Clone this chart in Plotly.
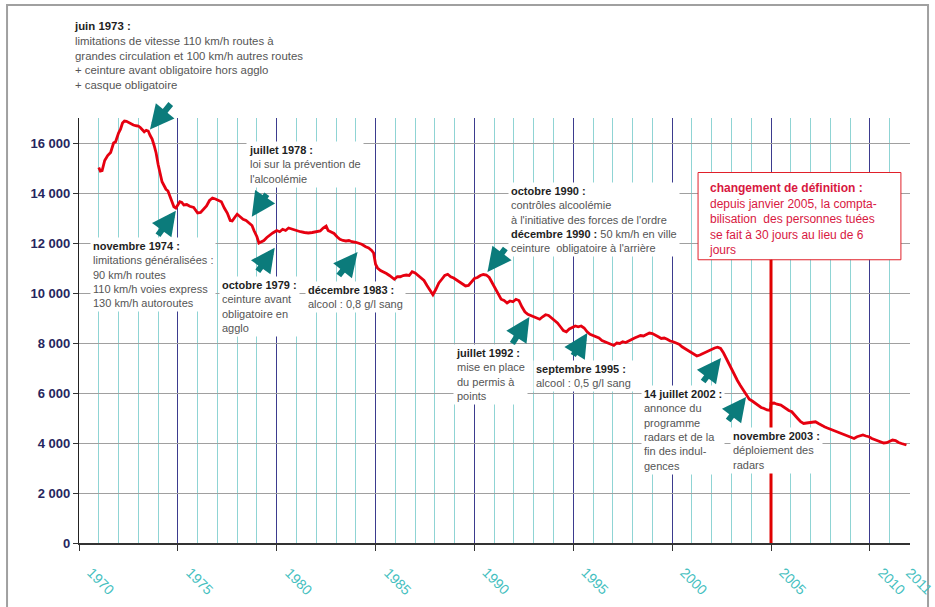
import plotly.graph_objects as go

# ---- data: 12-month rolling number of road deaths (France) ----
years = [1971.00,1971.08,1971.17,1971.3,1971.45,1971.6,1971.75,1971.85,1972.0,1972.1,1972.2,1972.3,1972.4,1972.5,1972.6,1972.75,1972.9,
         1973.0,1973.1,1973.2,1973.3,1973.4,1973.5,1973.6,1973.7,1973.8,1973.9,1974.0,1974.1,1974.2,1974.3,1974.4,1974.5,1974.6,1974.7,1974.8,1974.9,
         1975.0,1975.1,1975.2,1975.3,1975.45,1975.6,1975.8,1975.9,1976.0,1976.15,1976.3,1976.45,1976.6,1976.75,1976.9,
         1977.05,1977.2,1977.35,1977.5,1977.65,1977.75,1977.9,1978.0,1978.15,1978.3,1978.45,1978.6,1978.75,1978.85,
         1979.0,1979.1,1979.2,1979.35,1979.5,1979.65,1979.8,1980.0,1980.15,1980.3,1980.45,1980.6,1980.75,1980.9,
         1981.05,1981.2,1981.4,1981.6,1981.8,1982.0,1982.2,1982.35,1982.5,1982.6,1982.75,1982.9,
         1983.05,1983.2,1983.35,1983.5,1983.65,1983.8,1984.0,1984.15,1984.3,1984.5,1984.65,1984.8,1984.9,
         1985.0,1985.1,1985.25,1985.4,1985.55,1985.7,1985.85,1985.95,1986.1,1986.25,1986.4,1986.55,1986.7,1986.85,
         1987.0,1987.15,1987.3,1987.45,1987.6,1987.75,1987.9,1988.05,1988.2,1988.35,1988.5,1988.65,1988.8,1988.95,
         1989.1,1989.25,1989.4,1989.55,1989.7,1989.85,1990.0,1990.15,1990.3,1990.45,1990.6,1990.75,1990.9,
         1991.05,1991.2,1991.35,1991.5,1991.65,1991.8,1991.95,1992.1,1992.25,1992.4,1992.55,1992.7,1992.85,
         1993.0,1993.15,1993.3,1993.45,1993.6,1993.75,1993.9,1994.05,1994.2,1994.35,1994.5,1994.65,1994.8,1994.95,
         1995.1,1995.25,1995.4,1995.55,1995.7,1995.85,1996.0,1996.15,1996.3,1996.45,1996.6,1996.75,1996.9,
         1997.05,1997.2,1997.35,1997.5,1997.65,1997.8,1997.95,1998.1,1998.25,1998.4,1998.55,1998.7,1998.85,
         1999.0,1999.15,1999.3,1999.45,1999.6,1999.75,1999.9,2000.05,2000.2,2000.35,2000.5,2000.65,2000.8,2000.95,
         2001.1,2001.25,2001.4,2001.55,2001.7,2001.85,2002.0,2002.15,2002.3,2002.45,2002.6,2002.75,2002.9,
         2003.0,2003.15,2003.3,2003.45,2003.6,2003.75,2003.9,2004.05,2004.2,2004.35,2004.5,2004.65,2004.8,2004.97,
         2005.0,2005.15,2005.3,2005.5,2005.7,2005.9,2006.05,2006.2,2006.35,2006.5,2006.65,2006.8,2006.95,
         2007.1,2007.25,2007.4,2007.55,2007.7,2007.85,2008.0,2008.15,2008.3,2008.45,2008.6,2008.75,2008.9,
         2009.05,2009.2,2009.35,2009.5,2009.65,2009.8,2009.95,2010.1,2010.25,2010.4,2010.55,2010.7,2010.85,
         2011.0,2011.15,2011.3,2011.45,2011.6,2011.75,2011.85]
deaths = [15020,14880,14900,15300,15500,15620,16000,16050,16400,16550,16800,16880,16870,16820,16760,16720,16690,
          16680,16620,16540,16450,16510,16480,16300,16160,15900,15600,15150,14800,14450,14300,14150,14080,13850,13700,13450,13400,
          13550,13650,13620,13520,13540,13470,13420,13300,13200,13220,13350,13480,13700,13800,13760,
          13720,13650,13400,13200,12900,12880,13050,13150,13050,12950,12900,12780,12700,12500,
          12250,12000,12050,12100,12220,12330,12400,12500,12450,12550,12500,12600,12560,12520,
          12480,12450,12420,12400,12420,12450,12480,12600,12680,12500,12450,12380,
          12250,12150,12100,12080,12100,12050,12030,11980,11950,11850,11800,11700,11600,
          11150,11000,10900,10850,10780,10700,10600,10550,10650,10650,10700,10720,10700,10850,
          10800,10700,10600,10500,10300,10100,9930,10150,10400,10550,10700,10750,10650,10600,
          10520,10450,10350,10280,10300,10450,10580,10620,10700,10740,10720,10620,10400,
          10150,9950,9750,9700,9600,9680,9650,9750,9700,9450,9250,9150,9100,
          9050,8980,8950,9050,9130,9100,9000,8880,8800,8650,8500,8450,8560,8620,
          8680,8650,8680,8600,8450,8350,8300,8280,8200,8100,8050,7980,7950,
          7900,8000,7980,8050,8020,8080,8150,8200,8250,8300,8280,8340,8400,
          8380,8300,8250,8180,8200,8150,8080,8050,8000,7950,7850,7780,7700,7650,
          7550,7480,7520,7580,7640,7700,7750,7800,7830,7780,7600,7350,7100,
          6950,6700,6500,6300,6100,5900,5750,5680,5600,5500,5420,5380,5320,5300,
          5590,5600,5550,5520,5400,5300,5250,5100,4980,4850,4780,4800,4820,
          4830,4850,4780,4700,4650,4600,4550,4500,4450,4400,4380,4300,4250,
          4200,4180,4250,4300,4320,4280,4250,4180,4140,4100,4050,4000,4010,
          4080,4120,4100,4020,3980,3950,3920]

x_tick_vals = [1970, 1975, 1980, 1985, 1990, 1995, 2000, 2005, 2010]
x_tick_text = ["1970", "1975", "1980", "1985", "1990", "1995", "2000", "2005", "2010"]
x_end_label = "2011"
y_tick_vals = [0, 2000, 4000, 6000, 8000, 10000, 12000, 14000, 16000]
y_tick_text = ["0", "2 000", "4 000", "6 000", "8 000", "10 000", "12 000", "14 000", "16 000"]

DATE_C = "#1e1e1e"
TXT_C = "#555555"
TEAL = "#0b7b7b"
XLAB_C = "#45c0c0"
FONT = "Liberation Sans, Arial, sans-serif"

def d(s):
    return "<b><span style='color:%s'>%s</span></b>" % (DATE_C, s)

# text blocks: (x year, y value, text, white background)
blocks = [
    (1978.45, 16100, d("juillet 1978 :") + "<br>loi sur la prévention de<br>l'alcoolémie", True),
    (1970.55, 12250, d("novembre 1974 :") + "<br>limitations généralisées :<br>90 km/h routes<br>110 km/h voies express<br>130 km/h autoroutes", True),
    (1977.10, 10700, d("octobre 1979 :") + "<br>ceinture avant<br>obligatoire en<br>agglo", True),
    (1981.45, 10480, d("décembre 1983 :") + "<br>alcool : 0,8 g/l sang", True),
    (1991.70, 14450, d("octobre 1990 :") + "<br>contrôles alcoolémie<br>à l'initiative des forces de l'ordre<br>" + d("décembre 1990 :") + " 50 km/h en ville<br>ceinture  obligatoire à l'arrière", True),
    (1988.90, 7970, d("juillet 1992 :") + "<br>mise en place<br>du permis à<br>points", True),
    (1992.98, 7330, d("septembre 1995 :") + "<br>alcool : 0,5 g/l sang", True),
    (1998.43, 6330, d("14 juillet 2002 :") + "<br>annonce du<br>programme<br>radars et de la<br>fin des indul-<br>gences", True),
    (2002.93, 4640, d("novembre 2003 :") + "<br>déploiement des<br>radars", True),
]
top_block = d("juin 1973 :") + "<br>limitations de vitesse 110 km/h routes à<br>grandes circulation et 100 km/h autres routes<br>+ ceinture avant obligatoire hors agglo<br>+ casque obligatoire"

# arrows: head (year, value) and tail offset in pixels
arrows = [
    (1973.59, 16540, 22, -27),
    (1974.90, 13290, -19, 26),
    (1978.74, 13050, 16, -24),
    (1979.90, 11810, -18, 25),
    (1984.09, 11640, -20, 25),
    (1990.66, 10840, 19, -25),
    (1992.78, 9040, -18, 28),
    (1995.71, 8400, -15, 24),
    (2002.47, 7400, -19, 25),
    (2003.74, 5840, -19, 25),
]

fig = go.Figure()
fig.add_trace(go.Scatter(x=years, y=deaths, mode="lines",
                         line=dict(color="#e60010", width=2.8), hoverinfo="skip"))

annotations = []
annotations.append(dict(x=-0.0085, y=1.235, xref="paper", yref="paper", text=top_block, showarrow=False,
                        xanchor="left", yanchor="top", align="left",
                        font=dict(family=FONT, size=11.4, color=TXT_C)))
for (ax_, ay_, txt, bg) in blocks:
    annotations.append(dict(x=ax_, y=ay_, xref="x", yref="y", text=txt, showarrow=False,
                            xanchor="left", yanchor="top", align="left",
                            font=dict(family=FONT, size=11, color=TXT_C),
                            bgcolor="white" if bg else None, borderpad=2))
for (hx, hy, ox, oy) in arrows:
    annotations.append(dict(x=hx, y=hy, xref="x", yref="y", text="", showarrow=True,
                            ax=ox, ay=oy, arrowhead=2, arrowsize=0.8, arrowwidth=6,
                            arrowcolor=TEAL, standoff=0))
# red definition box text
annotations.append(dict(x=2001.75, y=14560, xref="x", yref="y", showarrow=False,
                        xanchor="left", yanchor="top", align="left",
                        text="<b>changement de définition :</b><br>depuis janvier 2005, la compta-<br>bilisation  des personnes tuées<br>se fait à 30 jours au lieu de 6<br>jours",
                        font=dict(family=FONT, size=12, color="#d8183f")))
# x tick labels (rotated, starting at the tick)
for v, t in zip(x_tick_vals, x_tick_text):
    annotations.append(dict(x=v, y=0, xref="x", yref="y", text=t, showarrow=False,
                            textangle=45, xanchor="left", yanchor="top", xshift=2, yshift=-19,
                            font=dict(family=FONT, size=14, color=XLAB_C)))
annotations.append(dict(x=2010, y=0, xref="x", yref="y", text=x_end_label, showarrow=False,
                        textangle=45, xanchor="left", yanchor="top", xshift=30, yshift=-19,
                        font=dict(family=FONT, size=14, color=XLAB_C)))

shapes = [
    dict(type="rect", xref="x", yref="y", x0=2001.31, x1=2011.57, y0=11330, y1=14820,
         line=dict(color="#e0202a", width=1), fillcolor="white", layer="above"),
    dict(type="line", xref="x", yref="y", x0=2005, x1=2005, y0=0, y1=11330,
         line=dict(color="#e00000", width=3), layer="above"),
    dict(type="rect", xref="paper", yref="paper", x0=-0.0866, x1=1.0217, y0=-0.17, y1=1.266,
         line=dict(color="#a0a0a0", width=2), fillcolor="rgba(0,0,0,0)", layer="below"),
]

fig.update_layout(
    width=935, height=607,
    margin=dict(l=79, r=25, t=118, b=64, autoexpand=False),
    paper_bgcolor="white", plot_bgcolor="white",
    showlegend=False,
    annotations=annotations, shapes=shapes,
    xaxis=dict(range=[1970, 2012.03], tickvals=x_tick_vals, ticktext=x_tick_text,
               showticklabels=False, automargin=False,
               showgrid=True, gridcolor="#3b3b8e", gridwidth=1,
               minor=dict(dtick=1, tick0=1970, showgrid=True, gridcolor="#8fd4d4", gridwidth=1),
               showline=True, linecolor="#333333", linewidth=1.5,
               ticks="outside", ticklen=6, tickcolor="#333333", zeroline=False),
    yaxis=dict(range=[0, 17000], tickvals=y_tick_vals, ticktext=["<b>%s</b>" % t for t in y_tick_text],
               tickfont=dict(family=FONT, size=13, color="#26265e"), automargin=False,
               showgrid=True, gridcolor="#a0a0a0", gridwidth=1,
               showline=True, linecolor="#222222", linewidth=1.2,
               ticks="outside", ticklen=5, tickcolor="#333333", zeroline=False),
)

fig.write_html("out.html", config={"displayModeBar": False},
               post_script="document.body.style.margin='0';document.body.style.padding='0';document.body.style.overflow='hidden';")
